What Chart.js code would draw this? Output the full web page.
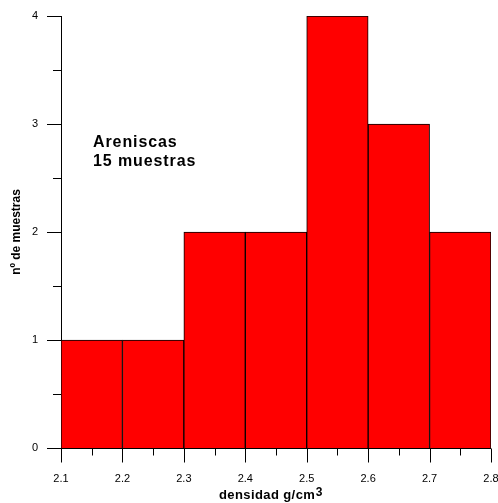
<!DOCTYPE html>
<html>
<head>
<meta charset="utf-8">
<script src="https://cdn.jsdelivr.net/npm/chart.js@4"></script>
<style>
	html, body { margin: 0; padding: 0; background: #fff; }
	#wrap { width: 498px; height: 503px; }
</style>
</head>
<body>
<div id="wrap"><canvas id="myChart"></canvas></div>
<script>
/* datos del histograma */
var binEdges = [2.1, 2.2, 2.3, 2.4, 2.5, 2.6, 2.7, 2.8];
var counts = [1, 1, 2, 2, 4, 3, 2];
var xTicks = [2.1, 2.2, 2.3, 2.4, 2.5, 2.6, 2.7, 2.8];
var yTicks = [0, 1, 2, 3, 4];
var noteLines = ['Areniscas', '15 muestras'];

var points = [];
for (var i = 0; i < counts.length; i++) {
	points.push({ x: (binEdges[i] + binEdges[i + 1]) / 2, y: counts[i] });
}

var FONT = '"Liberation Sans", Arial, sans-serif';

// marcas de los ejes (mayores y menores) + texto
var extras = {
	id: 'extras',
	afterDraw: function(chart) {
		var ctx = chart.ctx;
		var xs = chart.scales.x;
		var ys = chart.scales.y;
		var left = chart.chartArea.left;
		var bottom = chart.chartArea.bottom;
		ctx.save();
		ctx.strokeStyle = '#000';
		ctx.lineWidth = 1;
		ctx.beginPath();
		// eje x
		var by = Math.round(bottom) + 0.5;
		ctx.moveTo(left - 14, by);
		ctx.lineTo(xs.getPixelForValue(xTicks[xTicks.length - 1]), by);
		for (var i = 0; i < xTicks.length; i++) {
			var px = Math.round(xs.getPixelForValue(xTicks[i])) + 0.5;
			ctx.moveTo(px, by);
			ctx.lineTo(px, by + 14);
			if (i < xTicks.length - 1) {
				var mx = Math.round(xs.getPixelForValue((xTicks[i] + xTicks[i + 1]) / 2)) + 0.5;
				ctx.moveTo(mx, by);
				ctx.lineTo(mx, by + 7);
			}
		}
		for (var j = 0; j < yTicks.length; j++) {
			var py = Math.round(ys.getPixelForValue(yTicks[j])) + 0.5;
			ctx.moveTo(left, py);
			ctx.lineTo(left - 14, py);
			if (j < yTicks.length - 1) {
				var my = Math.round(ys.getPixelForValue((yTicks[j] + yTicks[j + 1]) / 2)) + 0.5;
				ctx.moveTo(left, my);
				ctx.lineTo(left - 8, my);
			}
		}
		ctx.stroke();

		// titulo eje x con superindice
		ctx.fillStyle = '#000';
		ctx.textBaseline = 'alphabetic';
		ctx.textAlign = 'left';
		ctx.letterSpacing = '0.4px';
		ctx.font = 'bold 13px ' + FONT;
		ctx.fillText('densidad g/cm', 219, 499);
		var w1 = ctx.measureText('densidad g/cm').width;
		ctx.font = 'bold 12px ' + FONT;
		ctx.fillText('3', 219 + w1 + 0.5, 496);

		// nota
		ctx.letterSpacing = '0.9px';
		ctx.font = 'bold 16px ' + FONT;
		ctx.fillText(noteLines[0], 93, 147);
		ctx.fillText(noteLines[1], 93, 166);
		ctx.restore();
	}
};

var ctx = document.getElementById('myChart');
var myChart = new Chart(ctx, {
	type: 'bar',
	data: {
		datasets: [{
			data: points,
			backgroundColor: 'rgb(255, 0, 0)',
			borderColor: '#000',
			borderWidth: 1,
			barPercentage: 1,
			categoryPercentage: 1
		}]
	},
	options: {
		responsive: true,
		maintainAspectRatio: false,
		animation: false,
		layout: { padding: { top: 16, right: 7, left: 0, bottom: 0 } },
		plugins: {
			legend: { display: false },
			tooltip: { enabled: false }
		},
		scales: {
			x: {
				type: 'linear',
				offset: false,
				min: 2.1,
				max: 2.8,
				afterBuildTicks: function(scale) {
					scale.ticks = xTicks.map(function(v) { return { value: v }; });
				},
				afterFit: function(scale) {
					scale.height = 55;
					scale.paddingLeft = 0;
					scale.paddingRight = 0;
				},
				grid: { display: false, drawTicks: false, offset: false },
				border: { display: false },
				ticks: {
					padding: 24,
					color: '#000',
					maxRotation: 0,
					autoSkip: false,
					font: { family: FONT, size: 11 },
					callback: function(v) { return v.toFixed(1); }
				}
			},
			y: {
				min: 0,
				max: 4,
				afterBuildTicks: function(scale) {
					scale.ticks = yTicks.map(function(v) { return { value: v }; });
				},
				afterFit: function(scale) {
					scale.width = 61;
					scale.paddingTop = 0;
					scale.paddingBottom = 0;
				},
				grid: { display: false, drawTicks: false },
				border: { display: true, color: '#000', width: 1 },
				title: {
					display: true,
					text: 'nº de muestras',
					color: '#000',
					padding: { top: 9, bottom: 0 },
					font: { family: FONT, size: 12, weight: 'bold' }
				},
				ticks: {
					padding: 23,
					color: '#000',
					font: { family: FONT, size: 11 }
				}
			}
		}
	},
	plugins: [extras]
});
</script>
</body>
</html>
